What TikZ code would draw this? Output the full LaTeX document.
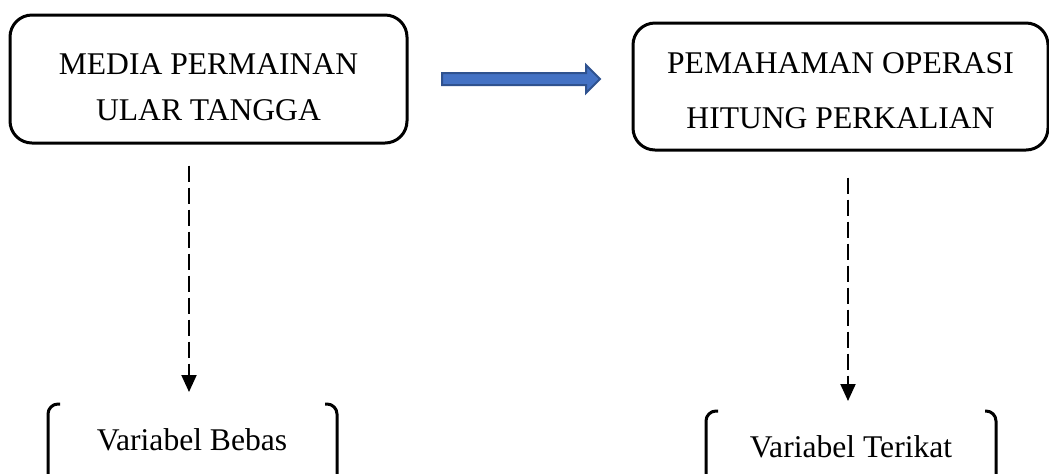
\documentclass[tikz,border=0pt]{standalone}
\usepackage{fontspec}
\setmainfont{Liberation Serif}
\usetikzlibrary{arrows.meta, positioning}
\definecolor{officeblue}{RGB}{68,114,196}
\definecolor{officeblueline}{RGB}{47,82,143}

\begin{document}
\begin{tikzpicture}[x=0.5pt, y=-0.5pt,
			konsep/.style={draw, line width=1.5pt, rounded corners=11pt, align=center, inner sep=0pt},
			varteks/.style={inner sep=0pt, font=\fontsize{15.8}{19}\selectfont},
			kurung/.style={line width=1.5pt, rounded corners=5pt},
			dasharr/.style={-{Triangle[length=8.5pt,width=7.5pt]}, line width=1pt, dash pattern=on 8pt off 3pt},
			blok/.style={draw=officeblueline, fill=officeblue, line width=1pt, line join=miter}]
			\useasboundingbox (0,0) rectangle (1049,473);
			\node[konsep, minimum width=198.5pt, minimum height=64pt, font=\fontsize{15.8}{23}\selectfont,
				text height=41pt, text depth=0pt] (media) at (208.5,79) {MEDIA PERMAINAN\\ULAR TANGGA};
			\node[konsep, minimum width=207.5pt, minimum height=63.5pt, font=\fontsize{15.8}{27.5}\selectfont,
				text height=41.5pt, text depth=0pt] (paham) at (840.5,86.5) {PEMAHAMAN OPERASI\\HITUNG PERKALIAN};
			\node[varteks] (bebas) at (192,440) {Variabel Bebas};
			\node[varteks] (terikat) at (851,447) {Variabel Terikat};
			% panah biru
			\draw[blok] (442,73) -- (586,73) -- (586,65) -- (600,79) -- (586,93) -- (586,85) -- (442,85) -- cycle;
			% garis putus-putus
			\coordinate (ujungA) at (189,392);
			\coordinate (ujungB) at (848,401);
			\draw[dasharr, shorten <=10.5pt] (media.south -| ujungA) -- (ujungA);
			\draw[dasharr, shorten <=13pt] (paham.south -| ujungB) -- (ujungB);
			% kurung
			\draw[kurung] (60,404) -- (48,404) -- (48,485);
			\draw[kurung] (325,404) -- (337,404) -- (337,485);
			\draw[kurung] (718,411) -- (706,411) -- (706,485);
			\draw[kurung] (985,411) -- (996,411) -- (996,485);
		\end{tikzpicture}
\end{document}
